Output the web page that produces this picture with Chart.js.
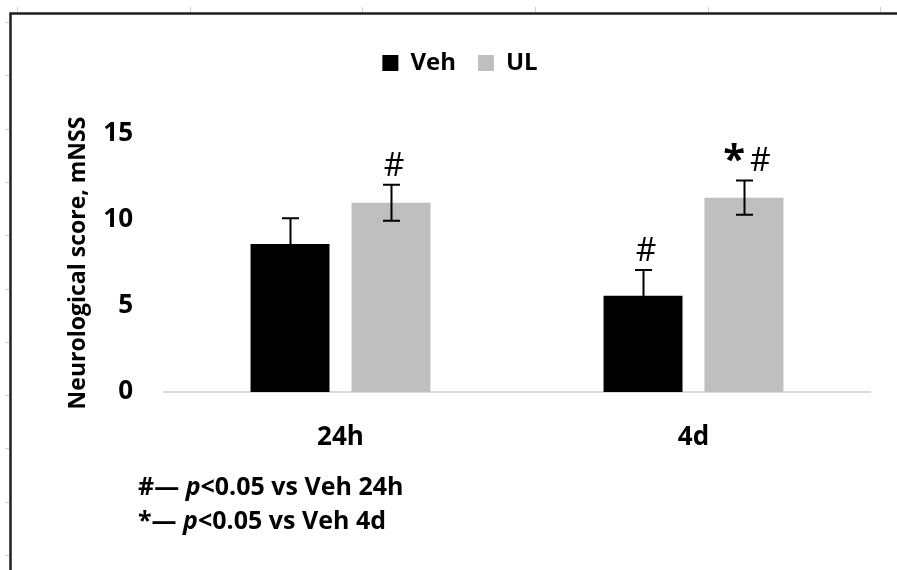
<!DOCTYPE html>
<html>
<head>
<meta charset="utf-8">
<script src="https://cdn.jsdelivr.net/npm/chart.js@4.4.1/dist/chart.umd.min.js"></script>
<style>
  html, body { margin: 0; padding: 0; background: #ffffff; }
  #wrap { width: 897px; height: 570px; position: relative; }
</style>
</head>
<body>
<div id="wrap"><canvas id="c" width="897" height="570"></canvas></div>
<script>
// ---- data ----
const categories = ['24h', '4d'];
const seriesNames = ['Veh', 'UL'];
const vehMeans = [8.6, 5.6];
const vehErrors = [1.5, 1.5];
const ulMeans = [11.0, 11.3];
const ulErrors = [1.05, 1.0];
const vehMarks = ['', '#'];
const ulMarks = ['#', '*#'];
const yTicks = [0, 5, 10, 15];
const yTitle = 'Neurological score, mNSS';
const footnotes = [
  { sym: '#', rest: '<0.05 vs Veh 24h' },
  { sym: '*', rest: '<0.05 vs Veh 4d' }
];

const FONT = "'Open Sans', 'DejaVu Sans', sans-serif";
const errors = [vehErrors, ulErrors];
const marks = [vehMarks, ulMarks];

const framePlugin = {
  id: 'frame',
  beforeDraw(chart) {
    const ctx = chart.ctx;
    ctx.save();
    ctx.fillStyle = '#ffffff';
    ctx.fillRect(0, 0, chart.width, chart.height);
    ctx.strokeStyle = '#cfcfcf';
    ctx.lineWidth = 1;
    [17, 190, 362, 535, 708, 880].forEach(x => {
      ctx.beginPath(); ctx.moveTo(x + 0.5, 7); ctx.lineTo(x + 0.5, 12); ctx.stroke();
    });
    for (let k = 0; k < 11; k++) {
      const y = Math.round(22 + 53.3 * k) + 0.5;
      ctx.beginPath(); ctx.moveTo(5, y); ctx.lineTo(9, y); ctx.stroke();
    }
    ctx.strokeStyle = '#1e1e1e';
    ctx.lineWidth = 2.5;
    ctx.beginPath();
    ctx.moveTo(10.5, chart.height);
    ctx.lineTo(10.5, 13.5);
    ctx.lineTo(chart.width, 13.5);
    ctx.stroke();
    ctx.restore();
  }
};

const legendSpacer = {
  id: 'legendSpacer',
  beforeInit(chart) {
    const origFit = chart.legend.fit;
    chart.legend.fit = function () {
      origFit.bind(chart.legend)();
      this.height += 49;
    };
  }
};

const errorBarPlugin = {
  id: 'errorBars',
  afterDatasetsDraw(chart) {
    const ctx = chart.ctx;
    const yScale = chart.scales.y;
    ctx.save();
    chart.data.datasets.forEach((ds, i) => {
      const meta = chart.getDatasetMeta(i);
      meta.data.forEach((bar, j) => {
        const m = ds.data[j];
        const e = errors[i][j];
        const yt = yScale.getPixelForValue(m + e);
        const yb = yScale.getPixelForValue(m - e);
        const x = Math.round(bar.x) + 0.5;
        ctx.strokeStyle = '#000000';
        ctx.lineWidth = 2;
        ctx.beginPath();
        ctx.moveTo(x, yt); ctx.lineTo(x, yb);
        ctx.moveTo(x - 8.5, yt); ctx.lineTo(x + 8.5, yt);
        ctx.moveTo(x - 8.5, yb); ctx.lineTo(x + 8.5, yb);
        ctx.stroke();
        const mk = marks[i][j];
        if (mk) {
          const baseY = yt - 9;
          ctx.fillStyle = '#000000';
          ctx.textBaseline = 'alphabetic';
          if (mk === '#') {
            ctx.font = '32px ' + FONT;
            ctx.textAlign = 'center';
            ctx.fillText('#', bar.x + 3, baseY);
          } else {
            ctx.font = 'bold 40px ' + FONT;
            const wStar = ctx.measureText('*').width;
            ctx.font = '32px ' + FONT;
            const wHash = ctx.measureText('#').width;
            const gap = 5;
            const total = wStar + gap + wHash;
            const sx = bar.x + 3 - total / 2;
            ctx.textAlign = 'left';
            ctx.font = 'bold 40px ' + FONT;
            ctx.fillText('*', sx, baseY + 2);
            ctx.font = '32px ' + FONT;
            ctx.fillText('#', sx + wStar + gap, baseY);
          }
        }
      });
    });
    ctx.restore();
  }
};

const footnotePlugin = {
  id: 'footnotes',
  afterDraw(chart) {
    const ctx = chart.ctx;
    ctx.save();
    ctx.fillStyle = '#000000';
    ctx.textBaseline = 'middle';
    ctx.textAlign = 'left';
    const startX = 138;
    const ys = [488, 522];
    footnotes.forEach((f, i) => {
      let x = startX;
      ctx.font = 'bold 25px ' + FONT;
      const head = f.sym + '\u2014 ';
      ctx.fillText(head, x, ys[i]);
      x += ctx.measureText(head).width;
      ctx.font = 'italic bold 25px ' + FONT;
      ctx.fillText('p', x, ys[i]);
      x += ctx.measureText('p').width;
      ctx.font = 'bold 25px ' + FONT;
      ctx.fillText(f.rest, x, ys[i]);
    });
    ctx.restore();
  }
};

new Chart(document.getElementById('c'), {
  type: 'bar',
  data: {
    labels: categories,
    datasets: [
      { label: seriesNames[0], data: vehMeans, backgroundColor: '#000000', borderWidth: 0,
        categoryPercentage: 0.572, barPercentage: 0.782 },
      { label: seriesNames[1], data: ulMeans, backgroundColor: '#bfbfbf', borderWidth: 0,
        categoryPercentage: 0.572, barPercentage: 0.782 }
    ]
  },
  options: {
    responsive: false,
    animation: false,
    devicePixelRatio: 1,
    layout: { padding: { left: 50, right: 27, top: 29, bottom: 118 } },
    plugins: {
      legend: {
        display: true,
        position: 'top',
        labels: {
          boxWidth: 16, boxHeight: 16, padding: 22,
          color: '#000000',
          font: { family: FONT, size: 24, weight: 'bold' }
        }
      },
      tooltip: { enabled: false },
      title: { display: false }
    },
    scales: {
      x: {
        grid: { display: false, drawTicks: false },
        border: { display: true, color: '#d9d9d9', width: 2 },
        ticks: { color: '#000000', padding: 30, font: { family: FONT, size: 26, weight: 'bold' } },
        afterFit(s) { s.height = 60; }
      },
      y: {
        min: 0, max: 15,
        grid: { display: false, drawTicks: false },
        border: { display: false },
        afterBuildTicks(s) { s.ticks = yTicks.map(v => ({ value: v })); },
        ticks: { color: '#000000', padding: 31, font: { family: FONT, size: 26, weight: 'bold' } },
        title: {
          display: true, text: yTitle, color: '#000000',
          padding: { top: 15, bottom: 0 },
          font: { family: FONT, size: 23, weight: 'bold' }
        },
        afterFit(s) { s.width = 114; }
      }
    }
  },
  plugins: [framePlugin, legendSpacer, errorBarPlugin, footnotePlugin]
});
</script>
</body>
</html>
